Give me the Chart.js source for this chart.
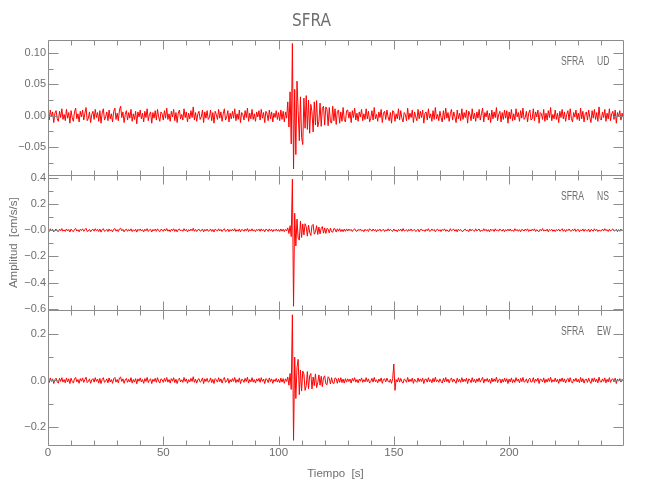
<!DOCTYPE html>
<html lang="es">
<head>
  <meta charset="utf-8">
  <title>SFRA</title>
  <script src="https://cdn.jsdelivr.net/npm/chart.js@4.4.1/dist/chart.umd.min.js"></script>
  <style>
    html, body { margin: 0; padding: 0; background: #fff; }
    #wrap { width: 650px; height: 500px; }
  </style>
</head>
<body>
  <div id="wrap"><canvas id="sismo" width="650" height="500"></canvas></div>

  <script>
    // una muestra cada 0.5 s, valores en 0.001 cm/s/s
    var dt = 0.5;
    var unidad = 0.001;

    var udRaw = [
      3,-7,9,-2,6,-11,4,8,-5,-9,7,-3,11,-6,2,-8,10,-4,5,-12,
      8,-3,-9,6,12,-5,3,-10,7,-2,9,-7,4,13,-8,-4,6,-11,2,7,
      -6,10,-3,5,-9,8,-12,4,11,-7,-2,6,-8,9,-5,3,-10,7,12,-6,
      4,-8,9,15,-3,6,-11,2,8,-7,5,-4,10,-9,3,-6,7,-13,6,-2,
      9,-5,4,-10,7,-3,11,-8,2,6,-12,5,-4,8,-7,10,-2,-9,6,3,
      -7,8,-4,12,-6,3,-9,7,-2,10,-8,5,-11,4,9,-5,2,-7,11,-3,
      6,-10,4,-5,8,-3,14,-7,5,-9,3,7,-6,-2,9,-11,6,-4,8,-6,
      -3,9,-8,5,-12,7,2,-6,10,-4,6,-9,3,11,-7,-2,8,-10,4,-5,
      7,-4,11,-8,3,-6,9,-11,5,2,-7,8,-3,12,-9,4,-5,10,-6,3,
      -9,6,-2,8,-7,10,-4,5,-11,7,3,-8,9,-5,6,-10,4,-3,8,-6,
      5,-8,9,-6,7,-10,6,-4,22,-18,38,-45,115,-85,42,-62,55,8,-40,30,
      -35,-46,28,-20,32,-22,25,-28,18,6,-26,22,-15,24,-18,-9,20,-17,12,15,
      -15,14,10,-16,13,-10,-12,15,-8,11,-14,7,9,-12,6,-9,13,-6,-10,8,
      9,-4,6,-11,8,-3,12,-7,4,-9,6,-2,10,-8,3,-6,11,-5,7,-10,
      -4,8,-7,13,-5,2,-9,6,-3,10,-11,4,7,-6,9,-2,-8,5,-12,8,
      6,-9,3,-5,11,-7,8,-4,-10,5,2,-8,12,-6,4,-3,9,-11,6,-2,
      -8,10,-5,7,-3,9,-12,4,6,-7,11,-4,3,-9,8,-6,13,-5,2,-8,
      7,-3,-10,8,-6,12,-4,5,-9,3,10,-7,6,-2,-11,9,-5,4,-8,11,
      -6,5,-3,9,-12,7,2,-8,11,-5,4,-9,6,-4,10,-7,3,12,-10,5,
      -2,8,-7,4,-11,9,-5,6,-3,13,-8,2,7,-10,5,-6,9,-4,8,-12,
      6,-5,10,-8,3,-7,11,-2,5,-9,8,-4,12,-6,-3,7,-10,4,9,-7,
      -5,11,-8,6,-2,9,-12,5,3,-6,10,-9,4,-7,8,-3,13,-8,2,-5,
      9,-6,4,-11,7,-3,10,-5,6,-9,2,8,-7,11,-4,-10,5,-2,9,-6,
      4,-8,12,-5,7,-10,3,6,-7,9,-3,-11,8,-4,10,-6,5,-9,14,-5,
      -7,6,-3,10,-9,4,-5,11,-8,3,7,-6,9,-12,5,-2,8,-7,4,-3
    ];

    var nsRaw = [
      5,-9,11,-3,7,-12,2,9,-6,-10,8,-4,13,-7,3,-9,10,-5,6,-13,
      9,-4,-11,7,14,-6,4,-12,8,-2,11,-8,5,15,-9,-5,7,-12,3,8,
      -7,12,-4,6,-10,9,-14,5,12,-8,-3,7,-10,10,-6,4,-12,8,13,-7,
      5,-10,10,16,-4,7,-12,3,9,-8,6,-5,11,-10,4,-7,8,-14,7,-3,
      10,-6,5,-12,8,-4,12,-9,3,7,-13,6,-5,9,-8,11,-3,-10,7,4,
      -8,10,-5,13,-7,4,-11,8,-3,12,-9,6,-12,5,10,-6,3,-8,12,-4,
      7,-12,5,-6,9,-4,15,-8,6,-10,4,8,-7,-3,10,-12,7,-5,9,-7,
      -4,10,-9,6,-13,8,3,-7,11,-5,7,-10,4,12,-8,-3,9,-11,5,-6,
      8,-5,12,-9,4,-7,10,-12,6,3,-8,9,-4,13,-10,5,-6,11,-7,4,
      -10,7,-3,9,-8,11,-5,6,-12,8,4,-9,10,-6,7,-11,5,-4,9,-7,
      6,-9,10,-7,8,-11,7,-5,18,-25,35,-48,390,-580,130,-120,85,-60,-75,70,
      -55,48,-36,50,25,-45,40,-18,-40,35,45,-30,-12,35,-32,24,-28,15,28,-22,
      18,-24,14,8,-20,16,-11,-15,13,9,-14,11,-7,12,-10,6,-11,9,-8,10,
      -6,9,-3,7,-10,4,11,-5,-8,6,-2,10,-7,3,-11,8,-4,5,-9,12,
      3,-7,10,-4,6,-12,5,-3,9,-8,2,7,-10,4,-6,11,-5,8,-3,-9,
      10,-5,3,-11,7,-4,9,-8,13,-6,-2,5,-9,7,-4,10,-7,2,6,-10,
      -3,8,-12,5,9,-6,3,-9,7,-4,12,-8,-5,10,-3,6,-11,4,8,-6,
      5,-10,7,-2,11,-8,4,-6,-9,12,-5,3,8,-7,6,-12,9,-3,5,-8,
      -9,4,8,-6,3,-11,10,-5,7,-3,-8,11,-6,4,9,-10,2,-7,12,-4,
      7,-8,5,-12,9,-3,6,-9,11,-5,4,-7,10,-2,-6,8,-11,5,-4,9,
      -5,10,-7,3,-9,12,-4,6,-8,5,-11,7,2,-6,9,-3,11,-9,4,-6,
      8,-3,11,-9,5,-6,-10,7,-4,13,-7,3,-5,9,-12,6,-2,8,-8,4,
      -10,6,-4,9,-7,3,12,-8,5,-11,6,-3,10,-5,-7,8,-4,11,-9,3,
      6,-11,4,-5,10,-8,7,-3,-6,9,-12,5,3,-8,11,-4,7,-10,2,-5,
      -4,9,-6,12,-3,5,-9,8,-7,4,10,-6,-3,7,-11,5,-8,9,-5,6
    ];

    var ewRaw = [
      6,-9,11,-4,7,-13,3,10,-7,-11,9,-4,12,-7,4,-10,11,-6,7,-13,
      10,-4,-11,7,13,-6,4,-12,8,-3,11,-8,4,14,-9,-4,7,-12,3,8,
      -7,12,-4,6,-11,9,-13,4,12,-8,-3,7,-10,11,-6,4,-12,8,13,-7,
      4,-10,11,15,-4,7,-12,3,9,-8,5,-6,12,-11,4,-7,8,-14,7,-3,
      11,-6,4,-12,8,-4,13,-9,3,7,-13,5,-4,9,-8,12,-3,-11,7,4,
      -8,9,-4,13,-7,4,-11,8,-3,12,-9,5,-13,4,10,-6,3,-8,13,-4,
      7,-12,4,-6,9,-4,16,-8,5,-11,4,8,-7,-3,11,-13,7,-4,9,-7,
      -4,11,-9,5,-13,8,3,-7,12,-5,7,-11,4,13,-8,-3,9,-12,4,-6,
      8,-4,13,-9,4,-7,11,-13,5,3,-8,9,-4,14,-11,4,-6,12,-7,4,
      -11,7,-3,9,-8,12,-4,6,-13,8,4,-9,11,-5,7,-12,4,-4,9,-7,
      5,-9,10,-7,8,-12,7,-4,15,-20,30,-38,280,-255,100,-77,55,90,-60,45,
      -45,40,28,-42,-22,38,-35,20,30,-36,15,-22,28,-30,-10,24,-20,18,-26,12,
      20,-14,-18,16,9,-15,12,-10,-13,11,8,-12,10,-8,12,-9,6,-11,8,-7,
      7,-4,6,-11,9,-3,12,-7,4,-10,6,-3,11,-8,4,-6,12,-5,7,-11,
      -4,9,-7,13,-5,3,-10,6,-4,11,-12,5,7,-6,10,-3,-8,5,-12,8,
      70,-42,4,-6,12,-7,9,-5,-11,6,3,-8,13,-6,5,-4,10,-12,6,-3,
      -8,11,-5,7,-4,10,-13,5,6,-7,12,-5,4,-10,9,-6,14,-5,3,-8,
      7,-4,-11,9,-6,13,-5,6,-10,4,11,-7,6,-3,-12,10,-6,5,-8,12,
      -6,6,-4,10,-13,7,3,-9,12,-6,5,-10,7,-5,11,-7,4,13,-11,6,
      -3,9,-7,5,-12,10,-6,7,-4,14,-9,3,7,-11,6,-7,10,-5,8,-13,
      6,-6,11,-9,4,-8,12,-3,6,-10,9,-5,13,-7,-4,7,-11,5,10,-7,
      -5,12,-9,6,-3,10,-13,6,4,-6,11,-10,5,-7,9,-4,14,-8,3,-5,
      10,-6,5,-12,7,-4,11,-6,7,-10,3,9,-7,12,-5,-11,6,-3,10,-6,
      5,-9,13,-6,8,-11,4,6,-8,10,-4,-12,9,-5,11,-6,6,-10,14,-5,
      -7,7,-4,11,-10,5,-6,12,-8,4,7,-6,10,-13,6,-3,8,-7,5,-4
    ];

    var estacion = 'SFRA';
    var componentes = ['UD', 'NS', 'EW'];

    var xTicks = [0, 50, 100, 150, 200];
    var xMinor = [10, 20, 30, 40, 60, 70, 80, 90, 110, 120, 130, 140, 160, 170, 180, 190, 210, 220, 230, 240];

    var udTicks = [0.10, 0.05, 0.00, -0.05];
    var udLabels = ['0.10', '0.05', '0.00', '\u22120.05'];
    var udMinor = [0.075, 0.025, -0.025, -0.075];

    var nsTicks = [0.4, 0.2, 0.0, -0.2, -0.4, -0.6];
    var nsLabels = ['0.4', '0.2', '\u22120.0', '\u22120.2', '\u22120.4', '\u22120.6'];
    var nsMinor = [0.3, 0.1, -0.1, -0.3, -0.5];

    var ewTicks = [0.2, 0.0, -0.2];
    var ewLabels = ['0.2', '0.0', '\u22120.2'];
    var ewMinor = [0.1, -0.1];

    var fuente = '"Liberation Sans", Arial, sans-serif';
    var fuenteTit = '"DejaVu Sans Condensed", "Liberation Sans", sans-serif';
    var gris = '#6e6e6e';

    function serie(raw) {
      return raw.map(function (v, i) { return { x: i * dt, y: v * unidad }; });
    }

    function ejeY(min, max, ticks, labels, peso, titulo) {
      return {
        type: 'linear',
        position: 'left',
        stack: 'sismo',
        stackWeight: 1,
        weight: peso,
        min: min,
        max: max,
        grid: { display: false, drawTicks: false },
        border: { display: false },
        afterBuildTicks: function (s) {
          s.ticks = ticks.map(function (v) { return { value: v }; });
        },
        afterFit: function (s) { s.width = 48; },
        ticks: {
          autoSkip: false,
          padding: 2,
          color: gris,
          font: { family: fuente, size: 11 },
          callback: function (v, i) { return labels[i]; }
        },
        title: titulo ? {
          display: true,
          text: titulo,
          color: gris,
          font: { family: fuente, size: 11.5 },
          padding: { top: 7, bottom: 0 }
        } : { display: false }
      };
    }

    // marcos de cada panel, marcas hacia dentro y nombre de componente
    var marcos = {
      id: 'marcos',
      afterDraw: function (chart) {
        var ctx = chart.ctx;
        var x = chart.scales.x;
        var paneles = [
          { s: chart.scales.yUD, may: udTicks, men: udMinor, c: componentes[0] },
          { s: chart.scales.yNS, may: nsTicks, men: nsMinor, c: componentes[1] },
          { s: chart.scales.yEW, may: ewTicks, men: ewMinor, c: componentes[2] }
        ];
        var L = Math.round(x.left) + 0.5, R = Math.round(x.right) + 0.5;
        ctx.save();
        ctx.strokeStyle = '#8c8c8c';
        ctx.lineWidth = 1;
        paneles.forEach(function (p) {
          var s = p.s;
          var T = Math.round(s.top) + 0.5, B = Math.round(s.bottom) + 0.5;
          ctx.beginPath();
          ctx.rect(L, T, R - L, B - T);
          function marcaY(v, len) {
            var py = Math.round(s.getPixelForValue(v)) + 0.5;
            ctx.moveTo(L, py); ctx.lineTo(L + len, py);
            ctx.moveTo(R, py); ctx.lineTo(R - len, py);
          }
          function marcaX(v, len) {
            var px = Math.round(x.getPixelForValue(v)) + 0.5;
            ctx.moveTo(px, T); ctx.lineTo(px, T + len);
            ctx.moveTo(px, B); ctx.lineTo(px, B - len);
          }
          p.may.forEach(function (v) { marcaY(v, 10); });
          p.men.forEach(function (v) { marcaY(v, 5); });
          xTicks.forEach(function (v) { marcaX(v, 9); });
          xMinor.forEach(function (v) { marcaX(v, 5); });
          ctx.stroke();

          ctx.fillStyle = gris;
          ctx.font = '13px ' + fuente;
          ctx.textBaseline = 'middle';
          ctx.textAlign = 'left';
          var yTxt = s.top + 21;
          ctx.save();
          ctx.translate(561, yTxt); ctx.scale(0.66, 1);
          ctx.fillText(estacion, 0, 0);
          ctx.restore();
          ctx.save();
          ctx.translate(597, yTxt); ctx.scale(0.66, 1);
          ctx.fillText(p.c, 0, 0);
          ctx.restore();
        });
        ctx.restore();
      }
    };

    new Chart(document.getElementById('sismo'), {
      type: 'line',
      data: {
        datasets: [
          { label: estacion + ' ' + componentes[0], data: serie(udRaw), yAxisID: 'yUD' },
          { label: estacion + ' ' + componentes[1], data: serie(nsRaw), yAxisID: 'yNS' },
          { label: estacion + ' ' + componentes[2], data: serie(ewRaw), yAxisID: 'yEW' }
        ]
      },
      options: {
        responsive: false,
        animation: false,
        devicePixelRatio: 1,
        layout: { padding: { left: 0, right: 27, top: 0, bottom: 0 } },
        elements: {
          line: { borderColor: '#ff0000', borderWidth: 1, tension: 0 },
          point: { radius: 0, hoverRadius: 0 }
        },
        plugins: {
          legend: { display: false },
          tooltip: { enabled: false },
          title: {
            display: true,
            text: estacion,
            color: gris,
            font: { family: fuenteTit, size: 17, weight: 'normal' },
            padding: { top: 11, bottom: 9 }
          }
        },
        scales: {
          x: {
            type: 'linear',
            min: 0,
            max: 249.4,
            grid: { display: false, drawTicks: false },
            border: { display: false },
            afterBuildTicks: function (s) {
              s.ticks = xTicks.map(function (v) { return { value: v }; });
            },
            afterFit: function (s) { s.height = 55; },
            ticks: {
              autoSkip: false,
              padding: 1,
              maxRotation: 0,
              color: gris,
              font: { family: fuente, size: 11.5 },
              callback: function (v) { return String(v); }
            },
            title: {
              display: true,
              text: 'Tiempo  [s]',
              color: gris,
              font: { family: fuente, size: 11.5 },
              padding: { top: 0, bottom: 19 }
            }
          },
          yEW: ejeY(-0.275, 0.30, ewTicks, ewLabels, 1, null),
          yNS: ejeY(-0.61, 0.42, nsTicks, nsLabels, 2, 'Amplitud  [cm/s/s]'),
          yUD: ejeY(-0.095, 0.12, udTicks, udLabels, 3, null)
        }
      },
      plugins: [marcos]
    });
  </script>
</body>
</html>
